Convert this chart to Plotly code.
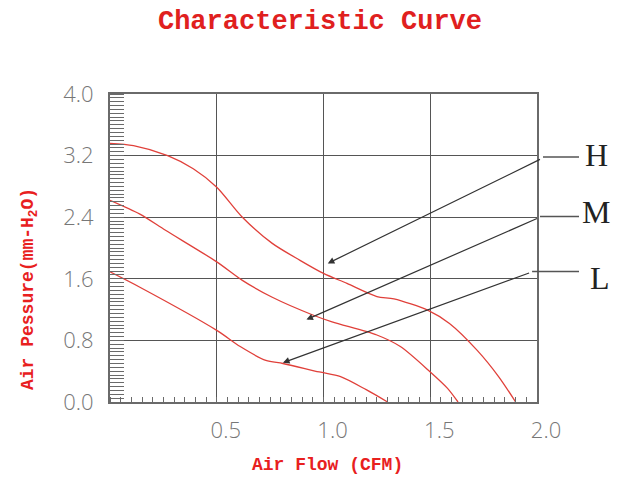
import plotly.graph_objects as go

# ---- data ----
h_flow = [0.0, 0.11, 0.27, 0.39, 0.50, 0.62, 0.76, 0.89, 1.00, 1.11, 1.25, 1.33, 1.49, 1.59, 1.72, 1.82, 1.90]
h_pres = [3.36, 3.33, 3.20, 3.03, 2.79, 2.40, 2.06, 1.84, 1.67, 1.54, 1.37, 1.34, 1.19, 1.02, 0.67, 0.33, 0.0]

m_flow = [0.0, 0.14, 0.26, 0.50, 0.62, 0.76, 0.95, 1.04, 1.25, 1.36, 1.50, 1.58, 1.63]
m_pres = [2.62, 2.44, 2.23, 1.82, 1.58, 1.36, 1.13, 1.04, 0.87, 0.72, 0.39, 0.18, 0.0]

l_flow = [0.0, 0.14, 0.50, 0.61, 0.73, 0.81, 0.98, 1.08, 1.20, 1.30]
l_pres = [1.69, 1.49, 0.93, 0.72, 0.54, 0.50, 0.39, 0.33, 0.16, 0.0]

x_ticks = [0.5, 1.0, 1.5, 2.0]
x_labels = ["0.5", "1.0", "1.5", "2.0"]
y_ticks = [0.0, 0.8, 1.6, 2.4, 3.2, 4.0]
y_labels = ["0.0", "0.8", "1.6", "2.4", "3.2", "4.0"]

series_names = ["H", "M", "L"]
# arrow tips (point on curve) and tails (data coords)
arrow_tips = [(1.02, 1.80), (0.92, 1.07), (0.81, 0.51)]
arrow_tails = [(2.028, 3.17), (2.014, 2.40), (1.977, 1.69)]

# ---- layout geometry (page body has an 8px margin) ----
OFF = 8
W, H = 621 - OFF, 490 - OFF
PL, PR, PT, PB = 110, 537, 94, 402          # plot box in window pixels
ML, MT = PL - OFF, PT - OFF
PW, PH = PR - PL, PB - PT
MR, MB = W - ML - PW, H - MT - PH


def px_to_paper(px, py):
    return (px - PL) / PW, (PB - py) / PH


RED = "#e0403a"
GRID = "#555555"
FRAME = "#6a6a6a"

fig = go.Figure()
for fx, fy in [(h_flow, h_pres), (m_flow, m_pres), (l_flow, l_pres)]:
    fig.add_trace(go.Scatter(x=fx, y=fy, mode="lines",
                             line=dict(color=RED, width=1.3, shape="spline", smoothing=0.8),
                             showlegend=False, hoverinfo="skip"))

annotations = []
shapes = []
label_px = [(596, 155), (596, 212), (600, 278)]
line_y_px = [157, 216.5, 271.5]
for name, tip, tail, lp, ly in zip(series_names, arrow_tips, arrow_tails, label_px, line_y_px):
    annotations.append(dict(x=tip[0], y=tip[1], xref="x", yref="y",
                            ax=tail[0], ay=tail[1], axref="x", ayref="y",
                            showarrow=True, arrowhead=2, arrowsize=1.1, arrowwidth=1.2,
                            arrowcolor="#333333", text=" "))
    # horizontal leader from tail to label
    tx_px = PL + tail[0] * PW / 2.0
    x0, y0 = px_to_paper(tx_px, ly)
    x1, _ = px_to_paper(579, ly)
    shapes.append(dict(type="line", xref="paper", yref="paper", x0=x0, y0=y0, x1=x1, y1=y0,
                       line=dict(color="#555555", width=1.3)))
    lx, lyp = px_to_paper(*lp)
    annotations.append(dict(x=lx, y=lyp, xref="paper", yref="paper", text=name, showarrow=False,
                            font=dict(family="Liberation Serif", size=32, color="#222222"),
                            xanchor="center", yanchor="middle"))

# axis titles
ytx, yty = px_to_paper(29, 289)
annotations.append(dict(x=ytx, y=yty, xref="paper", yref="paper", textangle=-90,
                        text="Air Pessure(mm-H<sub>2</sub>O)", showarrow=False,
                        font=dict(family="Liberation Mono", size=18, color="#e8201e", weight="bold"),
                        xanchor="center", yanchor="middle"))
xtx, xty = px_to_paper(327, 465)
annotations.append(dict(x=xtx, y=xty, xref="paper", yref="paper",
                        text="Air Flow (CFM)", showarrow=False,
                        font=dict(family="Liberation Mono", size=18, color="#e8201e", weight="bold"),
                        xanchor="center", yanchor="middle"))

tick_font = dict(family="Open Sans", size=22, color="#777777", weight=300)

fig.update_layout(
    width=W, height=H,
    margin=dict(l=ML, r=MR, t=MT, b=MB, autoexpand=False),
    paper_bgcolor="white", plot_bgcolor="white",
    title=dict(text="Characteristic Curve", x=(320 - OFF) / W, y=1 - (20 - OFF) / H,
               xanchor="center", yanchor="middle", xref="container", yref="container",
               font=dict(family="Liberation Mono", size=27, color="#e0201e", weight="bold")),
    xaxis=dict(range=[0, 2], tickmode="array", tickvals=x_ticks, ticktext=x_labels,
               showgrid=True, gridcolor=GRID, gridwidth=1.4,
               showline=True, mirror=True, linecolor=FRAME, linewidth=2,
               ticks="", tickfont=tick_font, ticklabelshift=9, ticklabelstandoff=8,
               zeroline=False, fixedrange=True,
               minor=dict(ticks="inside", ticklen=5, tickcolor=FRAME, tickwidth=1.2,
                          tickmode="linear", tick0=0, dtick=0.05, showgrid=False)),
    yaxis=dict(range=[0, 4], tickmode="array", tickvals=y_ticks, ticktext=y_labels,
               showgrid=True, gridcolor=GRID, gridwidth=1.4,
               showline=True, mirror=True, linecolor=FRAME, linewidth=2,
               ticks="", tickfont=tick_font, ticklabelstandoff=10,
               zeroline=False, fixedrange=True,
               minor=dict(ticks="inside", ticklen=14, tickcolor=FRAME, tickwidth=1.2,
                          tickmode="linear", tick0=0, dtick=0.05, showgrid=False)),
    annotations=annotations,
    shapes=shapes,
)

fig.write_html("out.html", config={"displayModeBar": False})
